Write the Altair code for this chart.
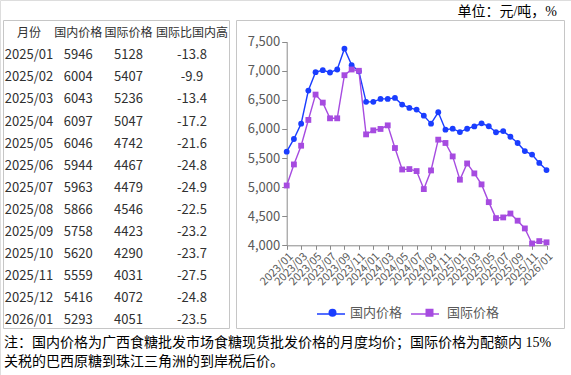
import altair as alt
import pandas as pd

# ---------------- data ----------------
months = [
    "2023/01", "2023/02", "2023/03", "2023/04", "2023/05", "2023/06", "2023/07", "2023/08",
    "2023/09", "2023/10", "2023/11", "2023/12", "2024/01", "2024/02", "2024/03", "2024/04",
    "2024/05", "2024/06", "2024/07", "2024/08", "2024/09", "2024/10", "2024/11", "2024/12",
    "2025/01", "2025/02", "2025/03", "2025/04", "2025/05", "2025/06", "2025/07", "2025/08",
    "2025/09", "2025/10", "2025/11", "2025/12", "2026/01",
]
domestic = [
    5609, 5828, 6091, 6660, 6976, 7010, 6970, 7022, 7380, 7097, 6990, 6466,
    6466, 6517, 6517, 6534, 6419, 6362, 6333, 6229, 6091, 6287, 5988, 6005,
    5946, 6004, 6043, 6097, 6046, 5944, 5963, 5866, 5758, 5620, 5559, 5416, 5293,
]
international = [
    5028, 5390, 5712, 6155, 6591, 6453, 6183, 6183, 6924, 7022, 7000, 5907,
    5976, 6000, 6062, 5672, 5303, 5310, 5276, 4966, 5287, 5816, 5759, 5528,
    5128, 5407, 5236, 5047, 4742, 4467, 4479, 4546, 4423, 4290, 4031, 4072, 4051,
]
series_names = ["国内价格", "国际价格"]
series_colors = ["#1a3dff", "#a64be0"]
series_shapes = ["circle", "square"]

table_headers = ["月份", "国内价格", "国际价格", "国际比国内高"]
table_months = ["2025/01", "2025/02", "2025/03", "2025/04", "2025/05", "2025/06", "2025/07",
                "2025/08", "2025/09", "2025/10", "2025/11", "2025/12", "2026/01"]
table_domestic = ["5946", "6004", "6043", "6097", "6046", "5944", "5963",
                  "5866", "5758", "5620", "5559", "5416", "5293"]
table_international = ["5128", "5407", "5236", "5047", "4742", "4467", "4479",
                       "4546", "4423", "4290", "4031", "4072", "4051"]
table_gap = ["-13.8", "-9.9", "-13.4", "-17.2", "-21.6", "-24.8", "-24.9",
             "-22.5", "-23.2", "-23.7", "-27.5", "-24.8", "-23.5"]

y_ticks = [4000, 4500, 5000, 5500, 6000, 6500, 7000, 7500]
x_ticks = months[::2]

unit_text = "单位：元/吨，%"
note_lines = [
    "注：国内价格为广西食糖批发市场食糖现货批发价格的月度均价；国际价格为配额内 15%",
    "关税的巴西原糖到珠江三角洲的到岸税后价。",
]

# ---------------- styling ----------------
FONT = "Noto Sans CJK SC"
SERIF = "Liberation Serif, Noto Sans CJK SC"
W, H = 571, 375
AXIS_GREY = "#8a8a8a"
LABEL_GREY = "#595959"
TEXT_COL = "#303030"
BORDER = "#c6c6c6"

X_RANGE = [286.7, 546.5]
Y_RANGE = [245.3, 41.7]

# ---------------- line chart ----------------
rows = []
for m, d, i in zip(months, domestic, international):
    rows.append({"month": m, "series": series_names[0], "lkey": "L" + series_names[0], "value": d})
    rows.append({"month": m, "series": series_names[1], "lkey": "L" + series_names[1], "value": i})
df = pd.DataFrame(rows)

x_scale = alt.Scale(type="point", domain=months, range=X_RANGE, padding=0)
y_scale = alt.Scale(domain=[4000, 7500], range=Y_RANGE, nice=False, zero=False)

x_axis = alt.Axis(
    values=x_ticks, labelAngle=-45, offset=-(H - Y_RANGE[0]), title=None, grid=False,
    domainColor=AXIS_GREY, tickColor=AXIS_GREY, tickSize=4, labelColor=LABEL_GREY,
    labelFont=FONT, labelFontSize=11, labelPadding=1,
)
y_axis = alt.Axis(
    values=y_ticks, format=",.0f", offset=-X_RANGE[0], title=None, grid=False,
    domainColor=AXIS_GREY, tickColor=AXIS_GREY, tickSize=5, labelColor=LABEL_GREY,
    labelFont=FONT, labelFontSize=13, labelPadding=2,
)

LEG_Y = 313
# line part of the legend symbols (labels left empty)
leg_lines = alt.Legend(
    title=None, orient="none", legendX=316, legendY=LEG_Y - 14, direction="horizontal",
    columns=2, columnPadding=59, labelOffset=3, symbolSize=784, symbolStrokeWidth=1.5,
    symbolType="stroke", labelFont=FONT, labelFontSize=13, padding=0,
    labelExpr="''",
)
# marker part of the legend symbols, with the labels
leg_points = alt.Legend(
    title=None, orient="none", legendX=326, legendY=LEG_Y - 7, direction="horizontal",
    columns=2, columnPadding=19, labelOffset=11, symbolSize=64,
    labelFont=FONT, labelFontSize=13, labelColor=LABEL_GREY, padding=0, symbolOpacity=1,
)

lines = alt.Chart(df).mark_line(strokeWidth=1.4).encode(
    x=alt.X("month:O", scale=x_scale, axis=x_axis),
    y=alt.Y("value:Q", scale=y_scale, axis=y_axis),
    stroke=alt.Stroke("lkey:N",
                      scale=alt.Scale(domain=["L" + s for s in series_names], range=series_colors),
                      legend=leg_lines),
)
points = alt.Chart(df).mark_point(filled=True, size=34, opacity=1).encode(
    x=alt.X("month:O", scale=x_scale, axis=x_axis),
    y=alt.Y("value:Q", scale=y_scale, axis=y_axis),
    color=alt.Color("series:N", scale=alt.Scale(domain=series_names, range=series_colors),
                    legend=leg_points),
    shape=alt.Shape("series:N", scale=alt.Scale(domain=series_names, range=series_shapes),
                    legend=leg_points),
)
plot = alt.layer(lines, points)

# ---------------- table ----------------
row_keys = ["header"] + table_months
trows = [{"row": "header", "c0": table_headers[0], "c1": table_headers[1],
          "c2": table_headers[2], "c3": table_headers[3], "hdr": True}]
for m, d, i, g in zip(table_months, table_domestic, table_international, table_gap):
    trows.append({"row": m, "c0": m, "c1": d, "c2": i, "c3": g, "hdr": False})
tdf = pd.DataFrame(trows)

col_centers = [29, 78.3, 128.5, 192]
row_scale = alt.Scale(type="point", domain=row_keys, range=[33.3, 320], padding=0)
table_layers = []
for k, cx in enumerate(col_centers):
    table_layers.append(
        alt.Chart(tdf).mark_text(font=FONT, color=TEXT_COL, align="center", baseline="middle").encode(
            x=alt.value(cx),
            y=alt.Y("row:N", scale=row_scale, axis=None),
            text=alt.Text(f"c{k}:N"),
            size=alt.condition("datum.hdr", alt.value(12), alt.value(13)),
        )
    )
table = alt.layer(*table_layers)

# ---------------- frames & texts ----------------
one = pd.DataFrame({"a": [0]})
frame_table = alt.Chart(one).mark_rect(filled=False, stroke=BORDER, strokeWidth=1).encode(
    x=alt.value(3.5), x2=alt.value(229.5), y=alt.value(20.5), y2=alt.value(328.5))
frame_plot = alt.Chart(one).mark_rect(filled=False, stroke=BORDER, strokeWidth=1).encode(
    x=alt.value(236.5), x2=alt.value(564.5), y=alt.value(20.5), y2=alt.value(328.5))

unit = alt.Chart(pd.DataFrame({"t": [unit_text]})).mark_text(
    font=SERIF, fontSize=14, color="#000000", align="right", baseline="middle"
).encode(x=alt.value(557), y=alt.value(12), text="t:N")

notes = alt.Chart(pd.DataFrame({"t": ["\n".join(note_lines)]})).mark_text(
    font=SERIF, fontSize=14, color="#000000", align="left", baseline="middle",
    lineBreak="\n", lineHeight=19,
).encode(x=alt.value(4), y=alt.value(343), text="t:N")

chart = alt.layer(frame_table, frame_plot, table, plot, unit, notes).resolve_scale(
    y="independent"
).properties(
    width=W, height=H, padding=0, autosize=alt.AutoSizeParams(type="none")
).configure_view(stroke=None).configure(background="white")

chart.save("out.html", embed_options={"renderer": "svg", "actions": False})
